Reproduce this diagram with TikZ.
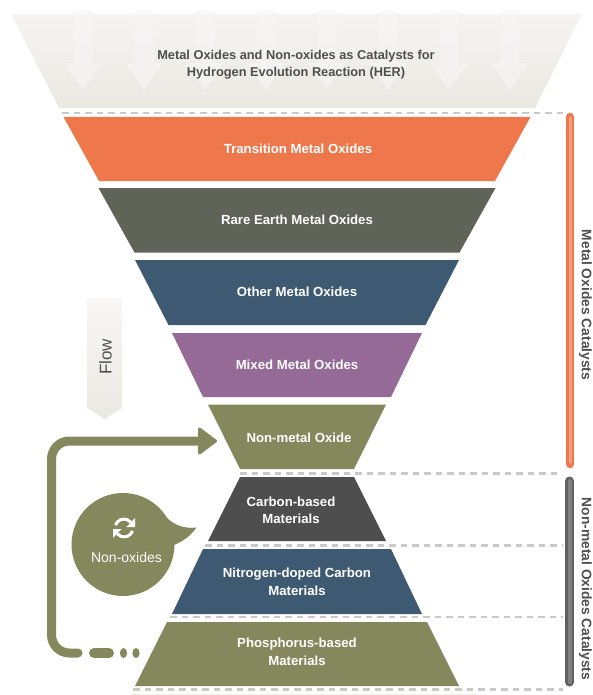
\documentclass[tikz,border=0pt]{standalone}
\usepackage{fontspec}
\setmainfont{Liberation Sans}
\definecolor{cOrange}{HTML}{EE784C}
\definecolor{cStone}{HTML}{5F6358}
\definecolor{cBlue}{HTML}{3E5A72}
\definecolor{cPurple}{HTML}{956A97}
\definecolor{cOlive}{HTML}{85875C}
\definecolor{cDark}{HTML}{4E4E4E}
\definecolor{cText}{HTML}{4F4F4F}
\definecolor{cDash}{HTML}{C9C9C7}
\definecolor{cPaleTop}{HTML}{F5F4F2}
\definecolor{cPaleBot}{HTML}{E9E8E1}
\definecolor{cGhost}{HTML}{F9F6F6}
\definecolor{cFaint}{HTML}{F3F3EC}
\tikzset{
  lbl/.style={text=white,font=\bfseries\fontsize{13.2}{17.5}\selectfont,align=center,inner sep=0pt},
  head/.style={text=cText,font=\bfseries\fontsize{12.8}{17.5}\selectfont,align=center,inner sep=0pt},
  side/.style={text=cText,font=\bfseries\fontsize{13.8}{15}\selectfont,rotate=-90,inner sep=0pt},
  sep/.style={draw=cDash,line width=2.4pt,dash pattern=on 6.5pt off 5pt},
  ghost/.style={fill=cGhost,draw=none,fill opacity=0.6},
  loop/.style={draw=cOlive,line width=9pt,line cap=round},
}
\begin{document}
\begin{tikzpicture}[x=1pt,y=-1pt]
\useasboundingbox (0,0) rectangle (593,695);
% top funnel
\shade[top color=cPaleTop,bottom color=cPaleBot] (11,14) -- (582,14) -- (535,108) -- (59,108) -- cycle;
\foreach \xc in {83,144,205,266,327,388,449,510}{
  \path[ghost] (\xc-9.5,10) -- (\xc+9.5,10) -- (\xc+9.5,63) -- (\xc+19,63) -- (\xc,90) -- (\xc-19,63) -- (\xc-9.5,63) -- cycle;
}
\node[head] (title) at (296,64.5) {Metal Oxides and Non-oxides as Catalysts for\\Hydrogen Evolution Reaction (HER)};
% separators
\coordinate (s1a) at (62,113); \coordinate (s1b) at (564,113);
\coordinate (s2a) at (240,473.5); \coordinate (s2b) at (558,473.5);
\coordinate (s3a) at (205,545.5); \coordinate (s3b) at (563,545.5);
\coordinate (s4a) at (170,617); \coordinate (s4b) at (563,617);
\coordinate (s5a) at (133,689.5); \coordinate (s5b) at (563,689.5);
\draw[sep] (s1a) -- (s1b);
\draw[sep] (s2a) -- (s2b);
\draw[sep] (s3a) -- (s3b);
\draw[sep] (s4a) -- (s4b);
\draw[sep] (s5a) -- (s5b);
\fill[cFaint] (130,693.5) rectangle (476,695);
% levels
\fill[cOrange] (63.5,117) -- (530.5,117) -- (495,181) -- (99,181) -- cycle;
\fill[cStone] (98.5,188) -- (495.5,188) -- (459.5,252.5) -- (134.5,252.5) -- cycle;
\fill[cBlue] (135,260) -- (459,260) -- (425.5,325) -- (168.5,325) -- cycle;
\fill[cPurple] (172,333) -- (422,333) -- (391,397) -- (203,397) -- cycle;
\fill[cOlive] (208,404.5) -- (386,404.5) -- (354,469) -- (240,469) -- cycle;
\fill[cDark] (240,477) -- (354,477) -- (386,541) -- (208,541) -- cycle;
\fill[cBlue] (203,549) -- (391,549) -- (422,614) -- (172,614) -- cycle;
\fill[cOlive] (167,622) -- (427,622) -- (459,686) -- (135,686) -- cycle;
\node[lbl] (n1) at (298,149) {Transition Metal Oxides};
\node[lbl] (n2) at (297,220) {Rare Earth Metal Oxides};
\node[lbl] (n3) at (297,292) {Other Metal Oxides};
\node[lbl] (n4) at (297,365) {Mixed Metal Oxides};
\node[lbl] (n5) at (299,438) {Non-metal Oxide};
\node[lbl] (n6) at (291,510.5) {Carbon-based\\Materials};
\node[lbl] (n7) at (297,582) {Nitrogen-doped Carbon\\Materials};
\node[lbl] (n8) at (297,652) {Phosphorus-based\\Materials};
% flow arrow
\shade[top color=cPaleTop!70,bottom color=cPaleBot] (87.5,298) -- (122,298) -- (122,408) -- (104.5,419) -- (87.5,408) -- cycle;
\node[text=cText,font=\fontsize{17}{18}\selectfont,rotate=90,inner sep=0pt] (flow) at (105.5,357) {Flow};
% side bars
\draw[line width=8.5pt,line cap=round,draw=cOrange] (570,117) -- (570,464);
\draw[line width=3pt,line cap=round,draw=cOrange!70!white] (570,118) -- (570,462);
\draw[line width=9pt,line cap=round,draw=cDark!90!white] (569.5,481) -- (569.5,682);
\draw[line width=4pt,line cap=round,draw=cDark!72!white] (569.5,481) -- (569.5,682);
\node[side] (m) at (585.5,305) {Metal Oxides Catalysts};
\node[side] (o) at (585.5,589) {Non-metal Oxides Catalysts};
% loop connector
\coordinate (l0) at (78,653); \coordinate (l1) at (51.5,653); \coordinate (l2) at (51.5,441); \coordinate (l3) at (200,441);
\draw[loop,line cap=round,rounded corners=18pt] (l0) -- (l1) -- (l2) -- (l3);
\fill[cOlive,draw=cOlive,line width=3pt,line join=round] (199.5,429) -- (215.5,441) -- (199.5,453) -- cycle;
\draw[loop,line width=10pt] (94,653) -- (109,653);
\fill[cOlive] (123.5,653) ellipse (3.6pt and 5pt);
\fill[cOlive] (136,653) ellipse (3.6pt and 5pt);
% speech bubble
\fill[cOlive] (123,544.5) circle (51.5pt);
\fill[cOlive] (166,517) .. controls (174,525) and (184,529) .. (196.5,527.5) .. controls (189,538) and (180,543) .. (171,546) -- cycle;
\node[text=white,font=\fontsize{14}{15}\selectfont,inner sep=0pt] (non) at (126.5,557) {Non-oxides};
% refresh icon
\draw[white,line width=3pt] (115.5,525) arc[start angle=160,end angle=40,radius=9pt];
\fill[white] (135,518) -- (135,527) -- (126.5,527) -- cycle;
\draw[white,line width=3pt] (132.5,531) arc[start angle=-20,end angle=-140,radius=9pt];
\fill[white] (113,538) -- (113,529) -- (121.5,529) -- cycle;
\end{tikzpicture}
\end{document}
